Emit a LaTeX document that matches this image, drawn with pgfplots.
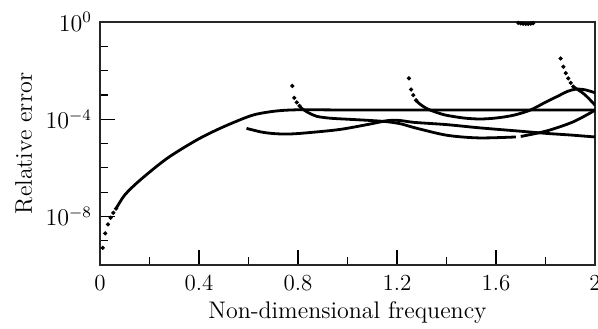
\documentclass[border=0pt]{standalone}
\usepackage{pgfplots}
\pgfplotsset{compat=1.18}
\pgfplotsset{
  cur/.style={black, line width=1.4pt, smooth, no markers},
  dots/.style={black, only marks, mark=*, mark size=0.85pt},
}
\begin{document}
\fontsize{11.5}{14}\selectfont
\begin{tikzpicture}
\begin{axis}[name=ax, scale only axis, width=247.5pt, height=121.5pt,
  xmin=0, xmax=2, ymode=log, ymin=1e-10, ymax=1,
  axis line style={line width=0.6pt, black!85},
  xtick={0,0.4,0.8,1.2,1.6,2}, xticklabels={0,0.4,0.8,1.2,1.6,2},
  minor xtick={0.2,0.6,1.0,1.4,1.8},
  ytick={1e-8,1e-4,1}, minor ytick={1e-9,1e-7,1e-6,1e-5,1e-3,1e-2,1e-1},
  tick align=inside, tick pos=left,
  major tick length=7.5pt, minor tick length=4pt,
  tick style={line width=0.6pt, black},
  xticklabel style={yshift=-1pt},
  xlabel={Non-dimensional frequency}, ylabel={Relative error},
  label style={font=\fontsize{12}{14}\selectfont},
  xlabel style={at={(axis description cs:0.5,-0.222)}, anchor=base},
  ylabel style={at={(axis description cs:-0.1374,0.5)}, anchor=base},
]
% main curve A
\addplot[dots] coordinates {(0.011,5.1e-10) (0.021,2.0e-9) (0.032,4.7e-9) (0.043,8.9e-9) (0.054,1.4e-8) (0.065,2.1e-8)};
\addplot[cur] coordinates {(0.065,2.1e-8) (0.1,7.6e-8) (0.16,3.0e-7) (0.27,2.4e-6) (0.39,1.38e-5) (0.485,4.2e-5) (0.579,1.07e-4) (0.633,1.62e-4) (0.714,2.19e-4) (0.808,2.45e-4) (1.0,2.4e-4) (1.5,2.4e-4) (2.0,2.4e-4)};
% curve B
\addplot[cur] coordinates {(0.592,4.2e-5) (0.65,3.0e-5) (0.70,2.57e-5) (0.76,2.45e-5) (0.835,2.75e-5) (0.97,3.8e-5) (1.09,6.3e-5) (1.16,8.7e-5) (1.21,8.9e-5) (1.27,7.4e-5) (1.40,6.0e-5) (1.535,4.4e-5) (1.70,3.2e-5) (1.805,2.6e-5) (1.9,2.24e-5) (2.0,1.86e-5)};
% curve C
\addplot[dots] coordinates {(0.777,2.34e-3) (0.785,7.6e-4) (0.795,4.9e-4) (0.806,3.55e-4)};
\addplot[cur] coordinates {(0.806,3.55e-4) (0.815,2.8e-4) (0.84,1.9e-4) (0.875,1.32e-4) (0.93,1.1e-4) (1.0,1.0e-4) (1.09,8.9e-5) (1.16,7.9e-5) (1.22,6.3e-5) (1.27,4.5e-5) (1.40,2.2e-5) (1.53,1.7e-5) (1.68,1.86e-5)};
\addplot[cur] coordinates {(1.70,1.95e-5) (1.805,3.3e-5) (1.912,7.8e-5) (2.0,2.34e-4)};
% curve E
\addplot[dots] coordinates {(1.248,4.8e-3) (1.257,1.66e-3) (1.266,9.8e-4) (1.277,6.0e-4)};
\addplot[cur] coordinates {(1.277,6.0e-4) (1.29,4.4e-4) (1.32,2.75e-4) (1.36,1.9e-4) (1.40,1.45e-4) (1.47,1.12e-4) (1.535,1.02e-4) (1.60,1.12e-4) (1.67,1.45e-4) (1.737,2.34e-4) (1.80,5.0e-4) (1.85,8.9e-4) (1.89,1.41e-3) (1.925,1.74e-3) (1.96,1.62e-3) (2.0,1.23e-3)};
% curve H
\addplot[dots] coordinates {(1.861,3.16e-2) (1.872,1.45e-2) (1.882,7.9e-3) (1.892,4.8e-3) (1.902,3.16e-3) (1.912,2.2e-3)};
\addplot[cur] coordinates {(1.912,2.2e-3) (1.93,1.66e-3) (1.953,1.15e-3) (1.975,7.1e-4) (2.0,3.8e-4)};
% top dash
\addplot[dots] coordinates {(1.69,0.92) (1.70,0.88) (1.71,0.85) (1.72,0.84) (1.73,0.84) (1.74,0.86) (1.75,0.9)};
\end{axis}
\pgfresetboundingbox
\path[use as bounding box] ([xshift=-50pt,yshift=-31.5pt]ax.south west) rectangle ([xshift=1.5pt,yshift=11pt]ax.north east);
\end{tikzpicture}
\end{document}
